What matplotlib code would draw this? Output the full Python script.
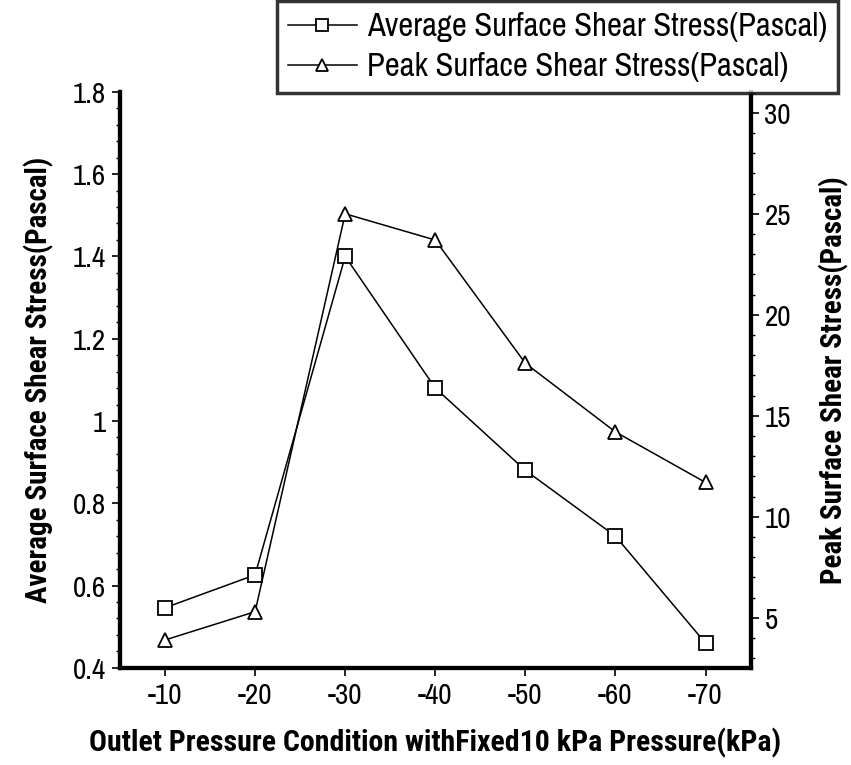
import matplotlib.pyplot as plt
import numpy as np
from matplotlib.ticker import MultipleLocator

plt.rcParams['font.family'] = ['Archivo Narrow', 'DejaVu Sans']

pressure = ['-10', '-20', '-30', '-40', '-50', '-60', '-70']
avg_stress = [0.546, 0.626, 1.40, 1.08, 0.88, 0.72, 0.46]
peak_stress = [3.9, 5.3, 25.0, 23.7, 17.6, 14.2, 11.7]

LABEL_FONT = ['Roboto Condensed', 'DejaVu Sans']


def main():
    fig = plt.figure(figsize=(8.51, 7.65), dpi=100)
    ax = fig.add_axes([0.141, 0.127, 0.741, 0.753])
    ax2 = ax.twinx()

    x = np.arange(len(pressure))
    l1, = ax.plot(x, avg_stress, color='black', lw=1.1, marker='s', ms=10.5,
                  mfc='white', mec='black', mew=1.3)
    l2, = ax2.plot(x, peak_stress, color='black', lw=1.1, marker='^', ms=10.5,
                   mfc='white', mec='black', mew=1.3)

    ax.set_xlim(-0.5, 6.5)
    ax.set_ylim(0.4, 1.8)
    ax2.set_ylim(2.52, 31.04)
    ax.set_xticks(x)
    ax.set_xticklabels(pressure)
    ax.set_yticks([0.4, 0.6, 0.8, 1.0, 1.2, 1.4, 1.6, 1.8])
    ax.set_yticklabels(['0.4', '0.6', '0.8', '1', '1.2', '1.4', '1.6', '1.8'])
    ax.yaxis.set_minor_locator(MultipleLocator(0.04))
    ax2.set_yticks([5, 10, 15, 20, 25, 30])
    ax2.yaxis.set_minor_locator(MultipleLocator(1))

    for a in (ax, ax2):
        a.spines['top'].set_visible(False)
        for s in ('left', 'right', 'bottom'):
            a.spines[s].set_linewidth(3)
    ax.tick_params(axis='both', which='major', labelsize=21, length=6, width=1.2,
                   direction='out', pad=4)
    ax.tick_params(axis='y', which='minor', length=3, width=1)
    ax2.tick_params(axis='y', which='major', labelsize=21, length=6, width=1.2,
                    direction='out', pad=4)
    ax2.tick_params(axis='y', which='minor', length=3, width=1)

    ax.set_ylabel('Average Surface Shear Stress(Pascal)', fontsize=21,
                  fontweight='bold', family=LABEL_FONT, labelpad=14)
    ax2.set_ylabel('Peak Surface Shear Stress(Pascal)', fontsize=21,
                   fontweight='bold', family=LABEL_FONT, labelpad=20)
    ax.set_xlabel('Outlet Pressure Condition withFixed10 kPa Pressure(kPa)',
                  fontsize=21.5, fontweight='bold', family=LABEL_FONT, labelpad=14)

    leg = fig.legend([l1, l2], ['Average Surface Shear Stress(Pascal)',
                                'Peak Surface Shear Stress(Pascal)'],
                     loc='upper right', bbox_to_anchor=(0.985, 0.999),
                     fontsize=23.5, frameon=True, fancybox=False,
                     handlelength=2.1, handletextpad=0.3, borderpad=0.35,
                     labelspacing=0.3, borderaxespad=0)
    leg.get_frame().set_edgecolor('black')
    leg.get_frame().set_linewidth(2.5)
    for h in leg.legend_handles:
        h.set_markersize(9)

    plt.savefig('out.png', dpi=100)
    plt.close()


if __name__ == "__main__":
    main()
